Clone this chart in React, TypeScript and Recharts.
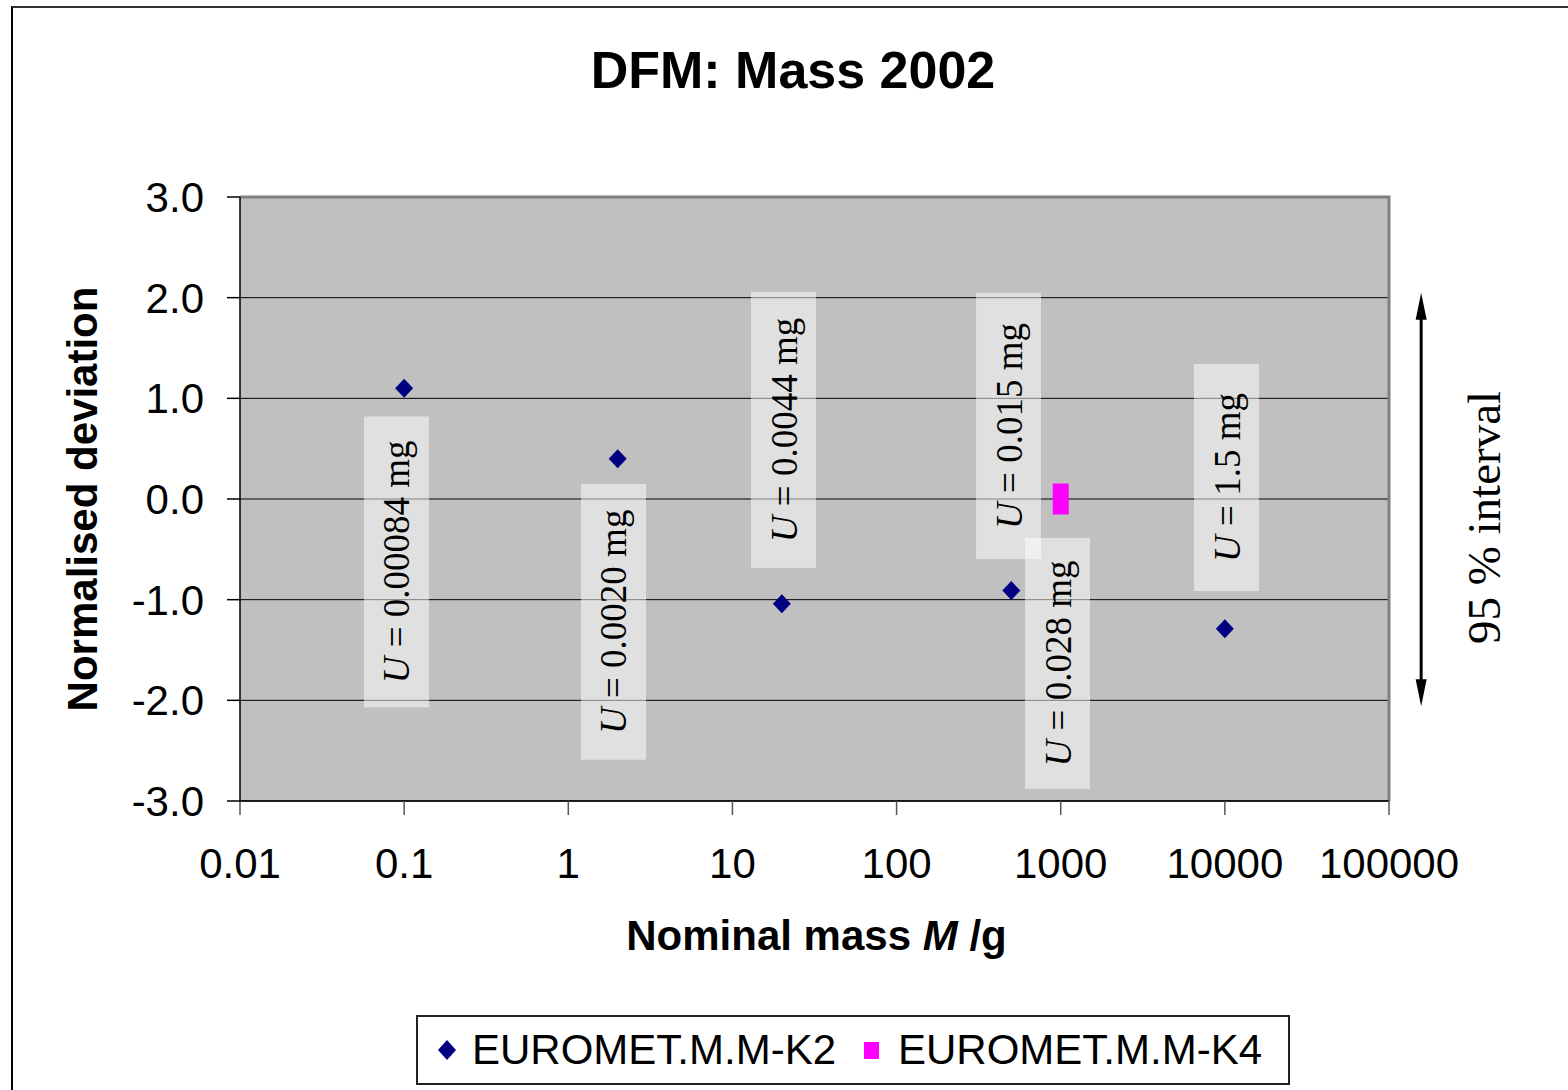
import React from 'react';
import {
  ScatterChart,
  Scatter,
  XAxis,
  YAxis,
  CartesianGrid,
  ReferenceArea,
  ReferenceLine,
  Legend,
} from 'recharts';

// ---- data ----
const k2Mass = [0.1, 2, 20, 500, 10000];
const k2Dev = [1.1, 0.4, -1.04, -0.91, -1.29];
const k4Mass = [1000];
const k4Dev = [0.0];
const seriesNames = ['EUROMET.M.M-K2', 'EUROMET.M.M-K4'];

const xTicks = [0.01, 0.1, 1, 10, 100, 1000, 10000, 100000];
const yTicks = [-3, -2, -1, 0, 1, 2, 3];

// uncertainty annotation boxes (data coordinates)
const uLabels = ['0.00084', '0.0020', '0.0044', '0.015', '0.028', '1.5'];
const uBoxX1 = [0.0569, 1.195, 12.98, 304.8, 606, 6486];
const uBoxX2 = [0.1417, 2.975, 32.3, 758.6, 1508, 16150];
const uBoxYTop = [0.82, 0.15, 2.056, 2.046, -0.387, 1.341];
const uBoxYBottom = [-2.07, -2.59, -0.685, -0.596, -2.881, -0.914];

// 95 % interval arrow (data coordinates)
const arrowMass = 157000;
const arrowTop = 2.05;
const arrowBottom = -2.06;

const SANS = '"Liberation Sans", Arial, Helvetica, sans-serif';
const SERIF = '"Liberation Serif", "Times New Roman", serif';

const k2Data = k2Mass.map((x, i) => ({ x, y: k2Dev[i] }));
const k4Data = k4Mass.map((x, i) => ({ x, y: k4Dev[i] }));

const Diamond = (p: any) => (
  <path
    d={`M${p.cx},${p.cy - 9.5} L${p.cx + 9},${p.cy} L${p.cx},${p.cy + 9.5} L${p.cx - 9},${p.cy} Z`}
    fill="#000080"
  />
);

const TallSquare = (p: any) => (
  <rect x={p.cx - 8} y={p.cy - 15.5} width={16} height={31} fill="#ff00ff" />
);

const PlotBorder = (p: any) => (
  <path
    d={`M${p.x},${p.y} H${p.x + p.width} V${p.y + p.height}`}
    fill="none"
    stroke="#808080"
    strokeWidth={3}
  />
);

const UBox = (p: any) => {
  const cx = p.x + p.width / 2;
  const cy = p.y + p.height / 2;
  return (
    <g>
      <rect x={p.x} y={p.y} width={p.width} height={p.height} fill="#ffffff" fillOpacity={0.5} />
      <text
        transform={`translate(${cx + 13}, ${cy}) rotate(-90)`}
        textAnchor="middle"
        fontFamily={SERIF}
        fontSize={37}
        fill="#000"
      >
        <tspan fontStyle="italic">U</tspan>
        <tspan>{` = ${p.text} mg`}</tspan>
      </text>
    </g>
  );
};

const Arrow = (p: any) => {
  const x = p.x1;
  const y1 = Math.min(p.y1, p.y2);
  const y2 = Math.max(p.y1, p.y2);
  return (
    <g>
      <line x1={x} y1={y1 + 20} x2={x} y2={y2 - 20} stroke="#000" strokeWidth={3} />
      <polygon points={`${x},${y1} ${x - 5.5},${y1 + 27} ${x + 5.5},${y1 + 27}`} fill="#000" />
      <polygon points={`${x},${y2} ${x - 5.5},${y2 - 27} ${x + 5.5},${y2 - 27}`} fill="#000" />
      <text
        transform={`translate(${x + 79}, ${(y1 + y2) / 2 + 18}) rotate(-90)`}
        textAnchor="middle"
        fontFamily={SERIF}
        fontSize={47}
        fill="#000"
      >
        95 % interval
      </text>
    </g>
  );
};

const LegendBox = (props: any) => {
  const payload = props.payload || [];
  return (
    <div
      style={{
        width: 874,
        height: 70,
        boxSizing: 'border-box',
        border: '2px solid #222',
        background: '#fff',
        display: 'flex',
        alignItems: 'center',
        paddingLeft: 20,
        fontFamily: SANS,
        fontSize: 42,
        color: '#000',
        lineHeight: 1,
      }}
    >
      {payload.map((entry: any, i: number) => (
        <div key={i} style={{ display: 'flex', alignItems: 'center', marginRight: i === 0 ? 28 : 0 }}>
          {i === 0 ? (
            <svg width={18} height={20} style={{ marginRight: 16 }}>
              <path d="M9,0 L18,10 L9,20 L0,10 Z" fill={entry.color || '#000080'} />
            </svg>
          ) : (
            <svg width={15} height={17} style={{ marginRight: 19 }}>
              <rect x={0} y={0} width={15} height={17} fill={entry.color || '#ff00ff'} />
            </svg>
          )}
          <span>{entry.value}</span>
        </div>
      ))}
    </div>
  );
};

export default function App() {
  return (
    <div
      style={{
        position: 'absolute',
        left: 0,
        top: 0,
        width: 1568,
        height: 1090,
        overflow: 'hidden',
        background: '#fff',
      }}
    >
      <div
        style={{
          position: 'absolute',
          left: 11,
          top: 6,
          width: 1700,
          height: 1200,
          borderLeft: '2px solid #000',
          borderTop: '2px solid #333',
        }}
      />
      <ScatterChart width={1568} height={1090} margin={{ top: 197, right: 179, bottom: 129, left: 80 }}>
        <CartesianGrid horizontal vertical={false} stroke="#000" fill="#c0c0c0" fillOpacity={1} />
        <ReferenceArea
          x1={0.01}
          x2={100000}
          y1={-3}
          y2={3}
          ifOverflow="visible"
          shape={(p: any) => <PlotBorder {...p} />}
        />
        {uLabels.map((u, i) => (
          <ReferenceArea
            key={i}
            x1={uBoxX1[i]}
            x2={uBoxX2[i]}
            y1={uBoxYBottom[i]}
            y2={uBoxYTop[i]}
            ifOverflow="visible"
            shape={(p: any) => <UBox {...p} text={u} />}
          />
        ))}
        <XAxis
          type="number"
          dataKey="x"
          scale="log"
          domain={[0.01, 100000]}
          allowDataOverflow
          ticks={xTicks}
          interval={0}
          tickFormatter={(v: number) => String(v)}
          height={160}
          tickSize={14}
          tickMargin={33}
          axisLine={{ stroke: '#000', strokeWidth: 1.5 }}
          tickLine={{ stroke: '#555', strokeWidth: 1.5 }}
          tick={{ fontSize: 42, fill: '#000', fontFamily: SANS }}
          label={{
            content: (p: any) => {
              const vb = p.viewBox || { x: 240, y: 801, width: 1149, height: 160 };
              return (
                <text
                  x={vb.x + vb.width / 2 + 2}
                  y={vb.y + 149}
                  textAnchor="middle"
                  fontFamily={SANS}
                  fontWeight="bold"
                  fontSize={42}
                  fill="#000"
                >
                  <tspan>Nominal mass </tspan>
                  <tspan fontStyle="italic">M</tspan>
                  <tspan> /g</tspan>
                </text>
              );
            },
          }}
        />
        <YAxis
          type="number"
          dataKey="y"
          domain={[-3, 3]}
          ticks={yTicks}
          interval={0}
          allowDataOverflow
          tickFormatter={(v: number) => v.toFixed(1)}
          width={160}
          tickSize={13}
          tickMargin={23}
          axisLine={{ stroke: '#000', strokeWidth: 1.5 }}
          tickLine={{ stroke: '#000', strokeWidth: 1.5 }}
          tick={{ fontSize: 42, fill: '#000', fontFamily: SANS }}
          label={{
            content: (p: any) => {
              const vb = p.viewBox || { x: 80, y: 197, width: 160, height: 604 };
              return (
                <text
                  transform={`translate(${vb.x + 17}, ${vb.y + vb.height / 2}) rotate(-90)`}
                  textAnchor="middle"
                  fontFamily={SANS}
                  fontWeight="bold"
                  fontSize={42}
                  fill="#000"
                >
                  Normalised deviation
                </text>
              );
            },
          }}
        />
        <Scatter
          name={seriesNames[0]}
          data={k2Data}
          fill="#000080"
          legendType="diamond"
          shape={(p: any) => <Diamond {...p} />}
          isAnimationActive={false}
        />
        <Scatter
          name={seriesNames[1]}
          data={k4Data}
          fill="#ff00ff"
          legendType="square"
          shape={(p: any) => <TallSquare {...p} />}
          isAnimationActive={false}
        />
        <ReferenceLine
          segment={[
            { x: arrowMass, y: arrowTop },
            { x: arrowMass, y: arrowBottom },
          ]}
          ifOverflow="visible"
          shape={(p: any) => <Arrow {...p} />}
        />
        <Legend
          verticalAlign="middle"
          align="center"
          layout="horizontal"
          wrapperStyle={{ left: 416, top: 1015, width: 874, height: 70 }}
          content={(p: any) => <LegendBox {...p} />}
        />
      </ScatterChart>
      <svg
        width={1568}
        height={1090}
        style={{ position: 'absolute', left: 0, top: 0, pointerEvents: 'none' }}
      >
        <text
          x={793}
          y={88}
          textAnchor="middle"
          fontFamily={SANS}
          fontWeight="bold"
          fontSize={52}
          fill="#000"
        >
          DFM: Mass 2002
        </text>
      </svg>
    </div>
  );
}
